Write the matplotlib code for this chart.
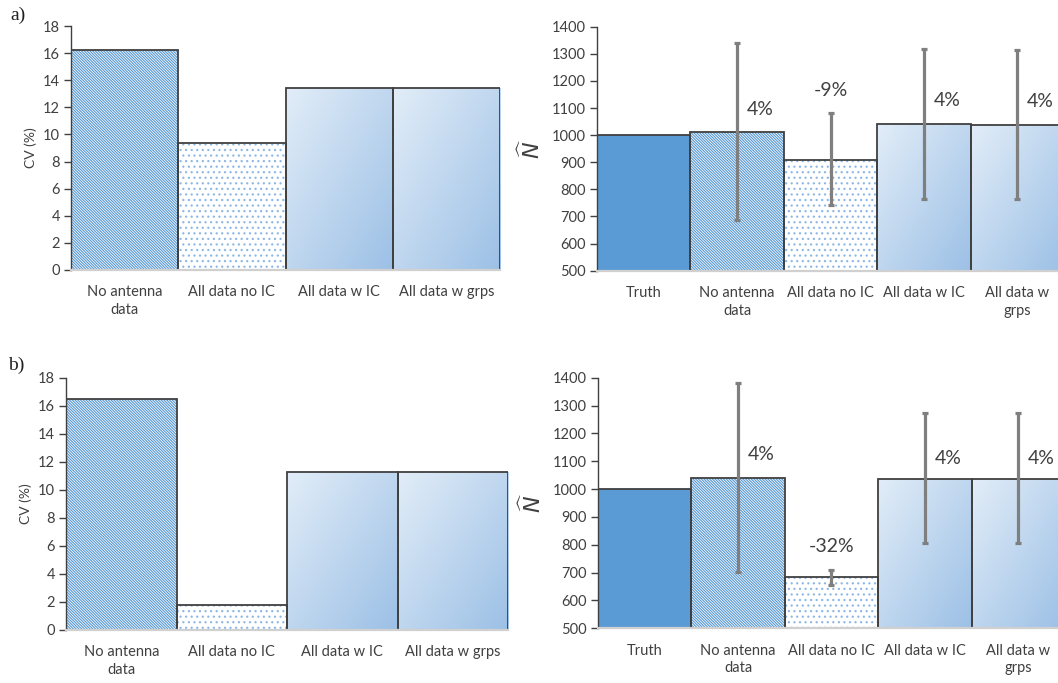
import numpy as np
import matplotlib
matplotlib.use("Agg")
import matplotlib.pyplot as plt
from matplotlib.colors import LinearSegmentedColormap

# ---- data ----
cv_categories = ["No antenna\ndata", "All data no IC", "All data w IC", "All data w grps"]
n_categories = ["Truth", "No antenna\ndata", "All data no IC", "All data w IC", "All data w\ngrps"]

cv_a = [16.25, 9.35, 13.4, 13.4]
cv_b = [16.45, 1.75, 11.3, 11.3]

n_a = [1000, 1013, 908, 1041, 1039]
n_a_low = [np.nan, 687, 742, 764, 764]
n_a_high = [np.nan, 1339, 1081, 1317, 1314]
bias_a = ["", "4%", "-9%", "4%", "4%"]
bias_a_y = [np.nan, 1093, 1166, 1126, 1124]

n_b = [1000, 1041, 683, 1037, 1037]
n_b_low = [np.nan, 701, 655, 805, 805]
n_b_high = [np.nan, 1380, 709, 1272, 1272]
bias_b = ["", "4%", "-32%", "4%", "4%"]
bias_b_y = [np.nan, 1125, 793, 1110, 1110]

# ---- style ----
plt.rcParams["font.family"] = ["Lato", "DejaVu Sans"]
plt.rcParams["hatch.linewidth"] = 0.85
TEXT = "#404040"
EDGE = "#404040"
BLUE = "#5B9BD5"
STRIPE = "#5B9BD5"
DOT = "#8DB8E6"
grad_cmap = LinearSegmentedColormap.from_list("pale_blue", ["#E2EDF8", "#9CC0E6"])

fig = plt.figure(figsize=(10.58, 6.83), dpi=100)


def style_axes(ax, ylim, yticks):
    ax.set_ylim(*ylim)
    ax.set_yticks(yticks)
    for s in ("top", "right"):
        ax.spines[s].set_visible(False)
    ax.spines["left"].set_color("#404040")
    ax.spines["left"].set_linewidth(1.0)
    ax.spines["bottom"].set_color("#D0D0D0")
    ax.spines["bottom"].set_linewidth(1.6)
    ax.tick_params(axis="y", length=5, width=1.0, color="#404040",
                   labelsize=10.5, labelcolor=TEXT, pad=3)
    ax.tick_params(axis="x", length=0, labelsize=10.5, labelcolor=TEXT, pad=11)
    for lbl in ax.get_xticklabels():
        lbl.set_linespacing(1.35)


def gradient(ax, bar, ybottom):
    x0, w = bar.get_x(), bar.get_width()
    y1 = bar.get_y() + bar.get_height()
    y0 = max(bar.get_y(), ybottom)
    u = np.linspace(0, 1, 200)
    U, V = np.meshgrid(u, u)
    im = ax.imshow((U + V) / 2, cmap=grad_cmap, vmin=0, vmax=1, origin="upper",
                   extent=(x0, x0 + w, y0, y1), aspect="auto", zorder=1,
                   interpolation="bilinear")
    im.set_clip_path(bar)


def draw_bars(ax, vals, kinds, ybottom):
    x = np.arange(len(vals))
    for xi, v, kind in zip(x, vals, kinds):
        if kind == "solid":
            ax.bar(xi, v, width=1.0, color=BLUE, edgecolor=EDGE, linewidth=1.3, zorder=2)
            continue
        if kind == "stripes":
            ax.bar(xi, v, width=1.0, facecolor="white", edgecolor=STRIPE,
                   hatch="\\" * 12, linewidth=0, zorder=1)
        elif kind == "dots":
            ax.bar(xi, v, width=1.0, facecolor="white", edgecolor=DOT,
                   hatch="...", linewidth=0, zorder=1)
        elif kind == "gradient":
            b = ax.bar(xi, v, width=1.0, facecolor="none", linewidth=0, zorder=1)[0]
            gradient(ax, b, ybottom)
        ax.bar(xi, v, width=1.0, fill=False, edgecolor=EDGE, linewidth=1.3, zorder=2)


def cv_panel(rect, vals):
    ax = fig.add_axes(rect)
    draw_bars(ax, vals, ["stripes", "dots", "gradient", "gradient"], 0)
    ax.set_xlim(-0.5, 3.5)
    ax.set_xticks(range(len(cv_categories)))
    ax.set_xticklabels(cv_categories)
    style_axes(ax, (0, 18), range(0, 19, 2))
    ax.set_ylabel("CV (%)", fontsize=10, color=TEXT, labelpad=4)
    return ax


def n_panel(rect, vals, low, high, labels, label_y, xmax):
    ax = fig.add_axes(rect)
    draw_bars(ax, vals, ["solid", "stripes", "dots", "gradient", "gradient"], 500)
    vals = np.asarray(vals, float)
    low = np.asarray(low, float)
    high = np.asarray(high, float)
    x = np.arange(len(vals))
    ok = ~np.isnan(low)
    ax.errorbar(x[ok], vals[ok], yerr=[vals[ok] - low[ok], high[ok] - vals[ok]],
                fmt="none", ecolor="#7F7F7F", elinewidth=2.3, capsize=2,
                capthick=2.3, zorder=4)
    for xi, lab, ly, lo, hi in zip(x, labels, label_y, low, high):
        if not lab:
            continue
        # labels sit beside long error bars, centred above short ones
        dx = 0.25 if ly < hi else 0.0
        ax.text(xi + dx, ly, lab, ha="center", va="center", fontsize=14,
                color=TEXT, zorder=5)
    ax.set_xlim(-0.5, xmax)
    ax.set_xticks(x)
    ax.set_xticklabels(n_categories)
    style_axes(ax, (500, 1400), range(500, 1401, 100))
    ax.set_ylabel(r"$\widehat{N}$", fontsize=16, color=TEXT, labelpad=6)
    return ax


cv_panel([0.0671, 0.6047, 0.4055, 0.3572], cv_a)
n_panel([0.5643, 0.6037, 0.4357, 0.3572], n_a, n_a_low, n_a_high, bias_a, bias_a_y, 4.436)
cv_panel([0.0624, 0.0776, 0.4178, 0.3694], cv_b)
n_panel([0.5652, 0.0801, 0.4348, 0.3669], n_b, n_b_low, n_b_high, bias_b, bias_b_y, 4.425)

fig.text(0.0095, 0.978, "a)", fontsize=14, family=["Liberation Serif", "DejaVu Serif"],
         ha="left", va="center", color="#202020")
fig.text(0.0075, 0.465, "b)", fontsize=14, family=["Liberation Serif", "DejaVu Serif"],
         ha="left", va="center", color="#202020")

fig.savefig("out.png", dpi=100)
